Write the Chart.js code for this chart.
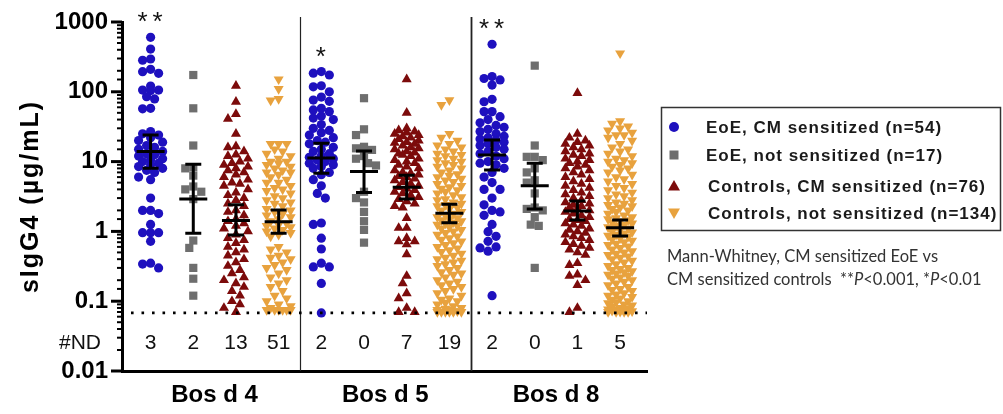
<!DOCTYPE html>
<html>
<head>
<meta charset="utf-8">
<script src="https://cdn.jsdelivr.net/npm/chart.js@4/dist/chart.umd.min.js"></script>
<style>
  html, body { margin: 0; padding: 0; background: #fff; }
  #wrap { width: 1003px; height: 414px; }
</style>
</head>
<body>
<div id="wrap"><canvas id="igg4" width="1003" height="414"></canvas></div>
<script>
// allergens on the x axis
const groups = ["Bos d 4", "Bos d 5", "Bos d 8"];
const seriesNames = [
  "EoE, CM sensitized (n=54)",
  "EoE, not sensitized (n=17)",
  "Controls, CM sensitized (n=76)",
  "Controls, not sensitized (n=134)",
];
const colors = ["#1e10be", "#6e6e6e", "#7c0b0b", "#e8a23e"];

// sIgG4 values (ug/mL), one array per allergen
const eoeCm = [
  [604, 410, 295, 283, 210, 194, 184, 121, 106, 106, 104, 85, 79, 58, 57,
   27, 25, 24, 22, 20, 19, 17, 16, 15, 14, 13, 12.5, 12, 11, 10.5, 10, 9.5, 9, 8.5, 8, 7.5, 7, 6, 5.5,
   3.0, 2.0, 2.0, 1.8, 1.26, 0.96, 0.96, 0.96, 0.72, 0.35, 0.34, 0.30],
  [195, 185, 174, 122, 118, 100, 84, 76, 73, 58, 55, 52, 45, 42, 40, 34, 30, 28,
   26, 24, 22, 20, 19, 18, 16, 15, 14, 13, 12, 11.5, 11, 10.5, 10, 9.5, 9, 8.5, 8, 7, 6.5, 5.5, 4.5,
   3.5, 3.0, 1.32, 1.26, 0.8, 0.56, 0.35, 0.31, 0.31, 0.18, 0.068],
  [480, 165, 155, 148, 125, 78, 72, 52, 52, 44,
   40, 36, 33, 31, 29, 27, 25, 23, 22, 21, 20, 19, 18, 17, 16, 15, 14, 13, 12, 11, 10, 9.5, 9, 8, 7, 6, 5,
   4.0, 4.0, 3.0, 2.4, 2.0, 1.9, 1.7, 1.26, 0.99, 0.85, 0.72, 0.6, 0.58, 0.52, 0.12],
];
const eoeNot = [
  [174, 58, 17, 8.3, 8.0, 6.3, 4.4, 4.0, 3.7, 2.9, 0.74, 0.58, 0.30, 0.21, 0.12],
  [81, 29, 24, 16.3, 15.5, 14.7, 12, 11, 9.5, 8.8, 3.7, 3.0, 2.6, 1.9, 1.4, 1.05, 0.69],
  [237, 17, 11.7, 11.7, 10.5, 8, 7, 5.4, 5.0, 3.5, 2.2, 2.1, 2.0, 1.6, 1.25, 1.2, 0.3],
];
const ctrlCm = [
  [122, 72, 48, 41, 25, 16.5, 16, 14, 12.6, 12,
   11, 10, 9.5, 9, 8.5, 8, 7.5, 7, 6.5, 6, 5.5, 5, 4.8, 4.5, 4, 3.6, 3.3, 3, 2.8, 2.5,
   2.3, 2, 1.9, 1.7, 1.5, 1.4, 1.3, 1.2, 1.1, 1.0, 0.9, 0.8, 0.75, 0.68, 0.6, 0.55, 0.5, 0.45, 0.4, 0.36,
   0.32, 0.28, 0.25, 0.22, 0.2, 0.18, 0.16, 0.14, 0.12, 0.1, 0.09, 0.08, 0.07],
  [151, 50,
   30, 28, 27, 26, 25, 24, 23, 22, 21, 20, 19, 18.5, 18, 17, 16, 15.5, 15, 14, 13.5, 13,
   12.5, 12, 11, 10.5, 10, 9.5, 9, 8.5, 8, 7.5, 7, 6.8, 6.5, 6.2, 6, 5.7, 5.4, 5.1, 4.8, 4.5,
   4.3, 4.1, 3.9, 3.7, 3.5, 3.3, 3.1, 2.9, 2.7, 2.5, 2.3, 2.2,
   1.55, 1.12, 1.12, 0.8, 0.72, 0.72, 0.65, 0.47, 0.23, 0.18, 0.13, 0.11, 0.08, 0.07, 0.07],
  [96,
   25, 22, 20, 19, 18, 17, 16, 15, 14, 13, 12.5, 12, 11, 10.5, 10, 9.5, 9, 8.5, 8, 7.5,
   7, 6.5, 6, 5.6, 5.2, 4.8, 4.5, 4.2, 3.9, 3.6, 3.4, 3.2, 3, 2.8, 2.6, 2.5, 2.4, 2.3, 2.2, 2.1,
   2.0, 1.9, 1.8, 1.7, 1.6, 1.5, 1.45, 1.4, 1.3, 1.25, 1.2, 1.1, 1.05, 1.0, 0.95, 0.9, 0.85, 0.8, 0.75, 0.7,
   0.66, 0.62, 0.58, 0.55, 0.5,
   0.46, 0.35, 0.33, 0.24, 0.23, 0.2, 0.17, 0.08, 0.07],
];
const ctrlNot = [
  [151, 110, 79, 75, 18, 18, 18,
   15, 14, 13, 12, 11, 10, 10, 9.5, 9, 8.5, 8, 7.5, 7, 7, 6.5, 6, 5.5, 5, 5, 4.5,
   4.2, 4, 3.8, 3.5, 3.2, 3, 2.8, 2.6, 2.5, 2.3, 2.1, 2, 1.9, 1.8, 1.7, 1.6, 1.5, 1.4, 1.3, 1.25,
   1.2, 1.15, 1.1, 1.05, 1.0, 0.95, 0.9, 0.85,
   0.6, 0.55, 0.5, 0.45, 0.42, 0.4, 0.36, 0.33, 0.3, 0.28, 0.25, 0.22, 0.2, 0.18, 0.16, 0.14,
   0.12, 0.11, 0.1, 0.09, 0.085, 0.08, 0.075, 0.075, 0.075, 0.075, 0.075, 0.075],
  [76, 65,
   25, 22, 20, 18, 17, 16, 15, 14, 13, 12.5, 12, 11, 10.5, 10, 9.5, 9, 8.5, 8, 7.5, 7,
   6.6, 6.3, 6, 5.7, 5.4, 5.1, 4.8, 4.5, 4.3, 4.1, 3.9, 3.7, 3.5, 3.3, 3.1, 2.9, 2.8, 2.6, 2.5, 2.4,
   2.3, 2.2, 2.1, 2.0, 1.9, 1.8, 1.7, 1.6, 1.55, 1.5, 1.45, 1.4, 1.35, 1.3, 1.25, 1.2, 1.15, 1.1, 1.05, 1.0,
   0.95, 0.9, 0.85, 0.8, 0.76, 0.72, 0.68, 0.64, 0.6, 0.57, 0.54, 0.51, 0.48, 0.45, 0.42, 0.4, 0.38, 0.36, 0.34, 0.32,
   0.3, 0.28, 0.26, 0.25, 0.24, 0.22, 0.2, 0.19, 0.18, 0.17, 0.16, 0.15, 0.14, 0.13, 0.12, 0.11, 0.105, 0.1, 0.095, 0.09,
   0.085, 0.08, 0.078, 0.075, 0.075, 0.072, 0.072, 0.07, 0.07, 0.07, 0.07, 0.07, 0.07],
  [356,
   38, 35, 32, 30, 28, 26, 24, 24, 22, 20, 18, 16, 15, 14, 13, 12, 11, 10.5, 10, 9.5,
   9, 8.5, 8, 7.5, 7, 6.5, 6, 5.6, 5.2, 4.8, 4.5, 4.2, 3.9, 3.6, 3.4, 3.2, 3.0, 2.8, 2.6, 2.5,
   2.4, 2.3, 2.2, 2.1, 2.0, 1.9, 1.8, 1.7, 1.6, 1.55, 1.5, 1.45, 1.4, 1.35, 1.3, 1.25, 1.2, 1.15, 1.1, 1.05,
   1.0, 0.97, 0.94, 0.9, 0.87, 0.84, 0.8, 0.77, 0.74, 0.7, 0.67, 0.64, 0.61, 0.58, 0.55, 0.52, 0.5, 0.48, 0.46, 0.44,
   0.42, 0.4, 0.38, 0.36, 0.34, 0.32, 0.3, 0.29, 0.28, 0.27, 0.26, 0.25, 0.24, 0.23, 0.22, 0.21, 0.2, 0.19, 0.18, 0.17,
   0.16, 0.15, 0.145, 0.14, 0.13, 0.125, 0.12, 0.115, 0.11, 0.105, 0.1, 0.097, 0.094, 0.09, 0.087, 0.084, 0.08, 0.078, 0.076, 0.075,
   0.074, 0.073, 0.072, 0.071, 0.07, 0.07, 0.07, 0.07],
];
const allSeries = [eoeCm, eoeNot, ctrlCm, ctrlNot];

// geometric mean with 95% CI, per allergen then per series
const gmean = [[13.9, 2.9, 1.43, 1.38], [11.3, 7.2, 4.3, 1.82], [12.4, 4.5, 1.96, 1.13]];
const ciLow = [[8.0, 0.94, 0.89, 0.94], [6.8, 3.6, 2.9, 1.33], [7.6, 2.1, 1.46, 0.86]];
const ciHigh = [[24, 9.2, 2.4, 2.03], [18.3, 14.2, 6.4, 2.44], [20.4, 9.5, 2.73, 1.46]];

// number of non-detectable samples
const ndCounts = [[3, 2, 13, 51], [2, 0, 7, 19], [2, 0, 1, 5]];
const stars = ["**", "*", "**"];
const detectLimit = 0.068;
const ndRowValue = 0.025;

const FONT = "'Liberation Sans', Arial, sans-serif";
const NOTE_FONT = "Lato, 'Open Sans', sans-serif";
const styles = [
  { pointStyle: "circle", radius: 4.6, rotation: 0 },
  { pointStyle: "rect", radius: 5.8, rotation: 0 },
  { pointStyle: "triangle", radius: 5.8, rotation: 0 },
  { pointStyle: "triangle", radius: 5.8, rotation: 180 },
];

// spread points sideways so they don't pile up (pixel space)
function swarm(py, dia, maxOff) {
  const order = py.map((_, i) => i).sort((a, b) => py[a] - py[b]);
  const placed = [];
  const offs = [];
  const step = dia * 0.5;
  const nMax = 2 * Math.floor(maxOff / step);
  for (const i of order) {
    let best = 0, bestScore = -1;
    for (let n = 0; n <= nMax; n++) {
      const cx = Math.ceil(n / 2) * step * (n % 2 ? -1 : 1);
      let d = Infinity;
      for (const p of placed) {
        const dd = Math.hypot(p.x - cx, p.y - py[i]);
        if (dd < d) d = dd;
      }
      if (d >= dia) { best = cx; break; }
      if (d > bestScore + 0.5) { bestScore = d; best = cx; }
    }
    placed.push({ x: best, y: py[i] });
    offs[i] = best;
  }
  return offs;
}

const datasets = allSeries.map((series, s) => ({
  label: seriesNames[s],
  data: series.flatMap((vals, g) => vals.map(v => ({ x: g * 4 + s, y: v }))),
  backgroundColor: colors[s],
  borderColor: colors[s],
  borderWidth: 0,
  pointStyle: styles[s].pointStyle,
  pointRadius: styles[s].radius,
  pointRotation: styles[s].rotation,
}));

function drawMarker(ctx, s, x, y) {
  ctx.save();
  ctx.fillStyle = colors[s];
  ctx.beginPath();
  if (s === 0) {
    ctx.arc(x, y, 5, 0, Math.PI * 2);
  } else if (s === 1) {
    ctx.rect(x - 4.5, y - 4.5, 9, 9);
  } else {
    const dir = s === 2 ? 1 : -1;
    ctx.moveTo(x, y - dir * 6);
    ctx.lineTo(x + 6, y + dir * 4.5);
    ctx.lineTo(x - 6, y + dir * 4.5);
    ctx.closePath();
  }
  ctx.fill();
  ctx.restore();
}

const extras = {
  id: "extras",
  afterDatasetsDraw(chart) {
    const { ctx, scales: { x, y }, chartArea } = chart;
    ctx.save();
    // group separators
    ctx.strokeStyle = "#222";
    [3.5, 7.5].forEach((v, i) => {
      const px = Math.round(x.getPixelForValue(v)) + 0.5;
      ctx.lineWidth = i === 0 ? 1.2 : 1.8;
      ctx.beginPath();
      ctx.moveTo(px, chartArea.top - 5);
      ctx.lineTo(px, chartArea.bottom);
      ctx.stroke();
    });
    // detection limit
    const ly = y.getPixelForValue(detectLimit);
    ctx.strokeStyle = "#000";
    ctx.lineWidth = 2.6;
    ctx.setLineDash([2.6, 7.9]);
    ctx.beginPath();
    ctx.moveTo(chartArea.left + 9, ly);
    ctx.lineTo(chartArea.right, ly);
    ctx.stroke();
    ctx.setLineDash([]);
    // error bars
    ctx.lineWidth = 3;
    ctx.strokeStyle = "#000";
    groups.forEach((_, g) => {
      for (let s = 0; s < 4; s++) {
        const cx = x.getPixelForValue(g * 4 + s);
        const m = y.getPixelForValue(gmean[g][s]);
        const lo = y.getPixelForValue(ciLow[g][s]);
        const hi = y.getPixelForValue(ciHigh[g][s]);
        ctx.beginPath();
        ctx.moveTo(cx, hi); ctx.lineTo(cx, lo);
        ctx.moveTo(cx - 14, m); ctx.lineTo(cx + 14, m);
        ctx.moveTo(cx - 8, hi); ctx.lineTo(cx + 8, hi);
        ctx.moveTo(cx - 8, lo); ctx.lineTo(cx + 8, lo);
        ctx.stroke();
      }
    });
    ctx.restore();
  },
  afterDraw(chart) {
    const { ctx, scales: { x, y }, chartArea } = chart;
    ctx.save();
    // y ticks, major and minor
    ctx.strokeStyle = "#000";
    y.ticks.forEach(t => {
      const py = y.getPixelForValue(t.value);
      const l = Math.log10(t.value);
      const major = Math.abs(l - Math.round(l)) < 1e-6;
      ctx.lineWidth = major ? 3 : 2;
      ctx.beginPath();
      ctx.moveTo(chartArea.left - (major ? 11 : 5), py);
      ctx.lineTo(chartArea.left, py);
      ctx.stroke();
    });
    // y title
    ctx.save();
    ctx.translate(31, (chartArea.top + chartArea.bottom) / 2);
    ctx.rotate(-Math.PI / 2);
    ctx.font = "bold 25px " + FONT;
    ctx.letterSpacing = "2px";
    ctx.fillStyle = "#000";
    ctx.textAlign = "center";
    ctx.textBaseline = "middle";
    ctx.fillText("sIgG4 (µg/mL)", 0, 0);
    ctx.restore();
    // ND counts
    const ny = y.getPixelForValue(ndRowValue);
    ctx.fillStyle = "#111";
    ctx.font = "21px " + FONT;
    ctx.textBaseline = "middle";
    ctx.textAlign = "right";
    ctx.fillText("#ND", 101, ny);
    ctx.textAlign = "center";
    ndCounts.forEach((row, g) => row.forEach((n, s) => {
      ctx.fillText(String(n), x.getPixelForValue(g * 4 + s), ny);
    }));
    // significance stars above EoE CM sensitized
    ctx.font = "26px " + FONT;
    ctx.letterSpacing = "5px";
    ctx.textBaseline = "alphabetic";
    stars.forEach((st, g) => {
      const top = y.getPixelForValue(Math.max(...eoeCm[g]));
      ctx.fillText(st, x.getPixelForValue(g * 4) + 2, top - 21 + 14);
    });
    ctx.letterSpacing = "0px";
    // legend box
    ctx.strokeStyle = "#333";
    ctx.lineWidth = 1.5;
    ctx.strokeRect(661.5, 107.5, 339, 123);
    const rows = [127, 155, 186, 213];
    ctx.font = "bold 17px " + FONT;
    ctx.letterSpacing = "1px";
    ctx.textAlign = "left";
    ctx.textBaseline = "middle";
    seriesNames.forEach((name, s) => {
      drawMarker(ctx, s, 674, rows[s]);
      ctx.fillStyle = "#1a1a1a";
      ctx.fillText(name, s < 2 ? 706 : 708, rows[s] + 1);
    });
    ctx.letterSpacing = "0px";
    // test note
    ctx.fillStyle = "#333";
    ctx.textBaseline = "alphabetic";
    const reg = "16.5px " + NOTE_FONT;
    const ita = "italic 16.5px " + NOTE_FONT;
    ctx.font = reg;
    ctx.fillText("Mann-Whitney, CM sensitized EoE vs", 667, 262);
    const parts = [["CM sensitized controls  **", reg], ["P", ita], ["<0.001, *", reg], ["P", ita], ["<0.01", reg]];
    let tx = 667;
    parts.forEach(([t, f]) => {
      ctx.font = f;
      ctx.fillText(t, tx, 285);
      tx += ctx.measureText(t).width;
    });
    ctx.restore();
  },
};

const chart = new Chart(document.getElementById("igg4"), {
  type: "scatter",
  data: { datasets },
  options: {
    responsive: false,
    animation: false,
    layout: { padding: { left: 0, top: 22, right: 356, bottom: 0 } },
    plugins: { legend: { display: false }, tooltip: { enabled: false } },
    scales: {
      x: {
        type: "linear",
        min: -0.67,
        max: 11.63,
        grid: { display: false, drawTicks: false },
        border: { display: true, width: 3, color: "#000" },
        afterBuildTicks: scale => {
          scale.ticks = groups.map((_, g) => ({ value: g * 4 + 1.5 }));
        },
        afterFit: scale => {
          scale.height = 43;
          scale.paddingLeft = 0;
          scale.paddingRight = 0;
        },
        ticks: {
          autoSkip: false,
          maxRotation: 0,
          padding: 10,
          color: "#000",
          font: { family: FONT, weight: "bold", size: 24 },
          callback: (v, i) => groups[i],
        },
      },
      y: {
        type: "logarithmic",
        min: 0.01,
        max: 1000,
        grid: { display: false, drawTicks: false },
        border: { display: true, width: 3, color: "#000" },
        afterFit: scale => {
          scale.width = 122;
          scale.paddingTop = 0;
          scale.paddingBottom = 0;
        },
        ticks: {
          autoSkip: false,
          padding: 14,
          color: "#000",
          font: { family: FONT, weight: "bold", size: 24 },
          callback: v => {
            const l = Math.log10(v);
            return Math.abs(l - Math.round(l)) < 1e-6 ? String(v) : "";
          },
        },
      },
    },
  },
  plugins: [extras],
});

// place points as a swarm using the chart's own scales
const ys = chart.scales.y, xs = chart.scales.x;
const pxPerUnit = xs.getPixelForValue(1) - xs.getPixelForValue(0);
chart.data.datasets.forEach((ds, s) => {
  ds.data = allSeries[s].flatMap((vals, g) => {
    const offs = swarm(vals.map(v => ys.getPixelForValue(v)), 8, 13);
    return vals.map((v, i) => ({ x: g * 4 + s + offs[i] / pxPerUnit, y: v }));
  });
});
chart.update("none");
</script>
</body>
</html>
